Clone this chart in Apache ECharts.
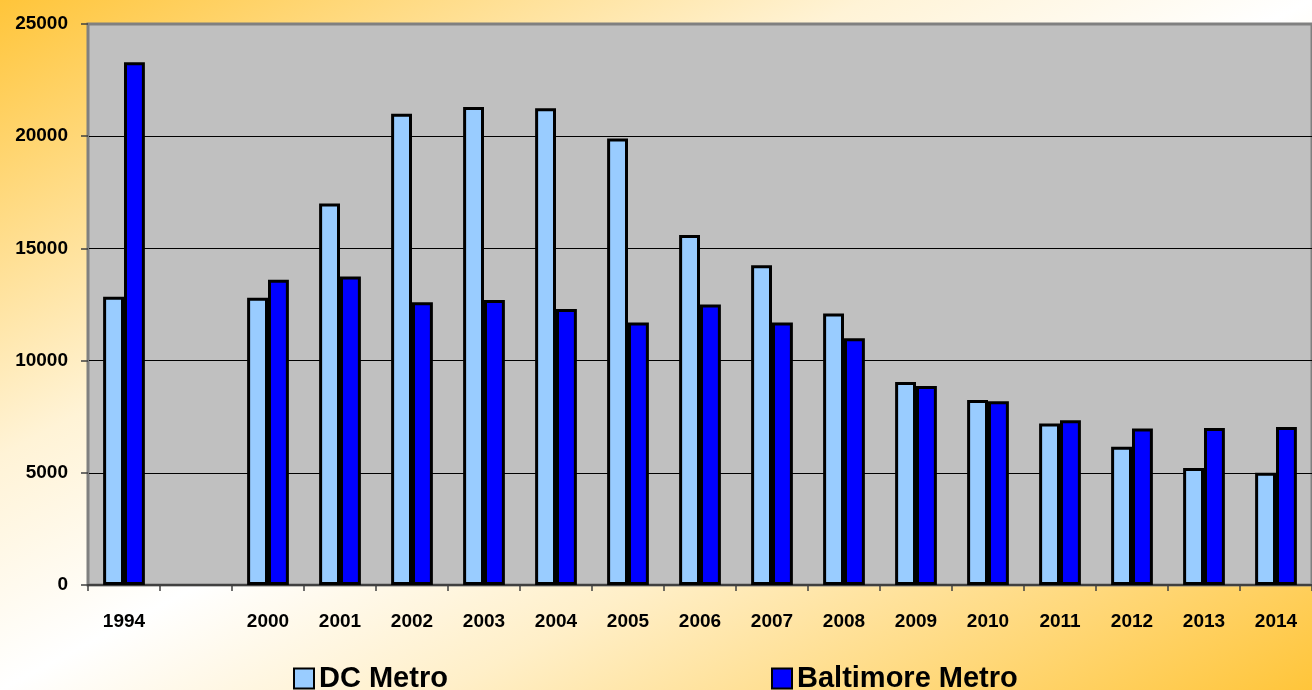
<!DOCTYPE html>
<html>
<head>
<meta charset="utf-8">
<script src="https://cdn.jsdelivr.net/npm/echarts@6/dist/echarts.min.js"></script>
<style>
html,body{margin:0;padding:0;}
#chart{width:1312px;height:690px;background:linear-gradient(to bottom right,#FFC53A 0%,#FFF3D6 33%,#FFFFFF 50%,#FFEFC8 67%,#FFC53A 100%);}
</style>
</head>
<body>
<div id="chart"></div>
<script>
const categories = ['1994','','2000','2001','2002','2003','2004','2005','2006','2007','2008','2009','2010','2011','2012','2013','2014'];
const dcMetro = [12850,'-',12800,17000,21000,21300,21250,19900,15600,14250,12100,9050,8240,7200,6160,5210,5000];
const baltimoreMetro = [23300,'-',13600,13750,12600,12700,12300,11700,12500,11700,11000,8870,8190,7340,6970,7000,7040];
const yTicks = {min:0,max:25000,interval:5000};

const chart = echarts.init(document.getElementById('chart'), null, {renderer:'canvas'});
const font = 'Arial, "Liberation Sans", sans-serif';
const legendText = {fontFamily:font,fontWeight:'bold',fontSize:29,color:'#000'};
chart.setOption({
  backgroundColor:'transparent',
  animation:false,
  grid:{left:88,right:0,top:24,bottom:105,show:true,backgroundColor:'#C0C0C0',borderColor:'#808080',borderWidth:3},
  legend:[
    {data:['DC Metro'],icon:'rect',left:293,top:664,padding:0,itemWidth:20,itemHeight:20,itemGap:5,textStyle:legendText,
     itemStyle:{borderColor:'#000',borderWidth:2}},
    {data:['Baltimore Metro'],icon:'rect',left:771,top:664,padding:0,itemWidth:20,itemHeight:20,itemGap:5,textStyle:legendText,
     itemStyle:{borderColor:'#000',borderWidth:2}}
  ],
  xAxis:{type:'category',data:categories,
    axisLine:{lineStyle:{color:'#404040',width:2}},
    axisTick:{show:true,length:6,lineStyle:{color:'#404040',width:1.5}},
    axisLabel:{margin:27,fontFamily:font,fontWeight:'bold',fontSize:19,color:'#000',interval:0}},
  yAxis:{type:'value',min:yTicks.min,max:yTicks.max,interval:yTicks.interval,
    axisLine:{show:true,lineStyle:{color:'#808080',width:2}},
    axisTick:{show:true,length:7,lineStyle:{color:'#404040',width:1.5}},
    axisLabel:{margin:20,fontFamily:font,fontWeight:'bold',fontSize:19,color:'#000',formatter:v=>String(v)},
    splitLine:{show:true,showMaxLine:false,showMinLine:false,lineStyle:{color:'#000',width:1}}},
  series:[
    {name:'DC Metro',type:'bar',data:dcMetro,barGap:'0%',barCategoryGap:'42%',
     itemStyle:{color:'#99CCFF',borderColor:'#000',borderWidth:3}},
    {name:'Baltimore Metro',type:'bar',data:baltimoreMetro,barGap:'0%',barCategoryGap:'42%',
     itemStyle:{color:'#0000FF',borderColor:'#000',borderWidth:3}}
  ]
});
</script>
</body>
</html>
